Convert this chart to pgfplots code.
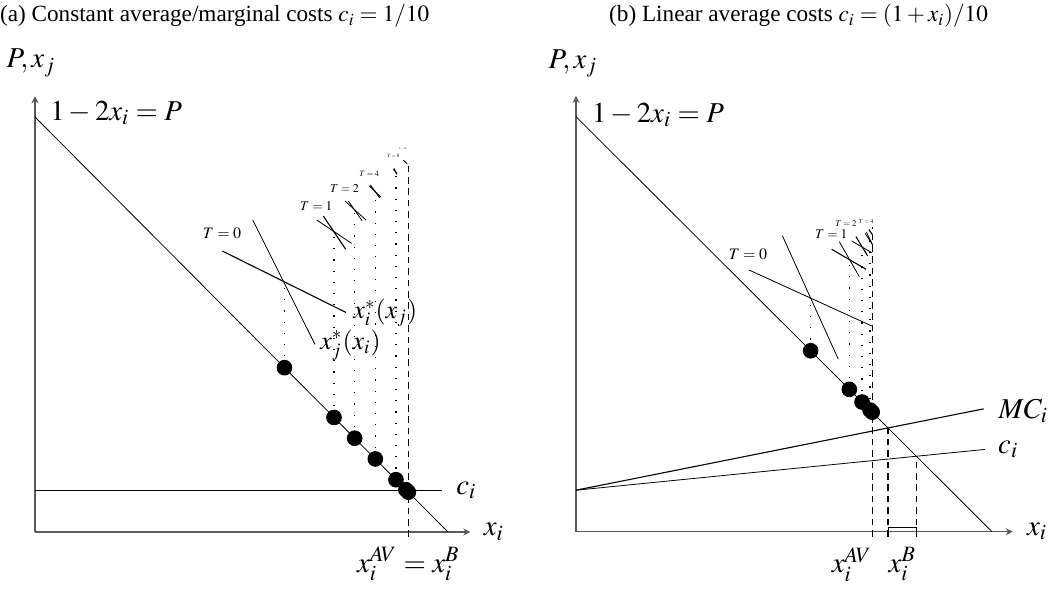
\documentclass[border=0pt]{standalone}
\usepackage{mathptmx}
\usepackage{fontspec}
\setmainfont{Liberation Serif}
\usepackage{pgfplots}
\pgfplotsset{compat=1.18}
\usetikzlibrary{arrows.meta}

\newcommand\fs[1]{\fontsize{#1}{#1}\selectfont}

\pgfplotsset{
  diagram/.style={
    axis lines*=left,
    xtick=\empty, ytick=\empty,
    xmin=0, ymin=0, ymax=1.05,
    y=207.5pt,
    clip=false,
    axis line style={black!65, line width=0.7pt, -{Stealth[length=3.5pt,width=3.5pt]}},
    cycle list={{black, no markers, line width=0.55pt}},
  },
  dots/.style={only marks, mark=*, mark size=3.7pt, black},
  proj/.style={black, line width=0.6pt, dash pattern=on 0.6pt off 5pt},
  guide/.style={black, line width=0.55pt, dash pattern=on 3.3pt off 2.4pt},
}
\tikzset{lbl/.style={inner sep=0pt}}

\begin{document}
\begin{tikzpicture}
\path[use as bounding box] (0,0) rectangle (529pt,296.5pt);

% ---------- (a) constant costs
\begin{axis}[diagram, x=413pt, xmax=0.527, at={(17.5pt,30.5pt)}, anchor=south west]
  \addplot coordinates {(0,1) (0.5,0)};
  \addplot coordinates {(0,0.1) (0.4924,0.1)};
  % reaction functions, T = 0, 1, 2, 4, 8, 16
  \addplot coordinates {(0.2268,0.677) (0.3765,0.529)};
  \addplot coordinates {(0.2636,0.752) (0.339,0.452)};
  \addplot coordinates {(0.3410,0.7518) (0.3834,0.6955)};
  \addplot coordinates {(0.3490,0.7614) (0.3762,0.6812)};
  \addplot coordinates {(0.3753,0.7976) (0.4007,0.7518)};
  \addplot coordinates {(0.3793,0.7976) (0.3962,0.7494)};
  \addplot coordinates {(0.4050,0.834) (0.4185,0.807)};
  \addplot coordinates {(0.4062,0.836) (0.4172,0.805)};
  \addplot coordinates {(0.4338,0.874) (0.4386,0.864)};
  \addplot coordinates {(0.4345,0.876) (0.4380,0.862)};
  \addplot coordinates {(0.4459,0.896) (0.4507,0.887)};
  % projections
  \addplot[proj] coordinates {(0.302,0.396) (0.302,0.603)};
  \addplot[proj] coordinates {(0.362,0.276) (0.362,0.723)};
  \addplot[proj] coordinates {(0.387,0.226) (0.387,0.776)};
  \addplot[proj] coordinates {(0.412,0.176) (0.412,0.820)};
  \addplot[proj] coordinates {(0.437,0.126) (0.437,0.869)};
  \addplot[guide] coordinates {(0.452,-0.012) (0.452,0.892)};
  \addplot[dots] coordinates {(0.302,0.396) (0.362,0.276) (0.387,0.226)
    (0.412,0.176) (0.437,0.126) (0.449,0.102) (0.452,0.096)};

  \node[anchor=base, font=\fs{11.6}] at (axis cs:0.2175,1.229)
    {(a) Constant average/marginal costs $c_i = 1/10$};
  \node[lbl, font=\fs{14.4}] at (axis cs:-0.005,1.130) {$P, x_j$};
  \node[lbl, anchor=west, font=\fs{14.4}] at (axis cs:0.018,1.01) {$1-2x_i=P$};
  \node[lbl, anchor=west, font=\fs{14.4}] at (axis cs:0.5097,0.101) {$c_i$};
  \node[lbl, anchor=west, font=\fs{14.4}] at (axis cs:0.543,0) {$x_i$};
  \node[lbl, anchor=north, font=\fs{14.4}] at (axis cs:0.452,-0.035) {$x_i^{AV}=x_i^B$};
  \node[lbl, anchor=west, font=\fs{13}] at (axis cs:0.385,0.528) {$x_i^*(x_j)$};
  \node[lbl, anchor=west, font=\fs{13}] at (axis cs:0.345,0.4506) {$x_j^*(x_i)$};
  \node[lbl, font=\fs{8}] at (axis cs:0.2264,0.7205) {$T=0$};
  \node[lbl, font=\fs{6.7}] at (axis cs:0.3406,0.785) {$T=1$};
  \node[lbl, font=\fs{6}] at (axis cs:0.3747,0.828) {$T=2$};
  \node[lbl, font=\fs{4.1}] at (axis cs:0.4046,0.8643) {$T=4$};
  \node[lbl, font=\fs{2.5}] at (axis cs:0.4338,0.9056) {$T=8$};
  \node[lbl, font=\fs{1.3}] at (axis cs:0.4455,0.924) {$T=16$};
\end{axis}

% ---------- (b) linear average costs
\begin{axis}[diagram, x=416pt, xmax=0.525, at={(288pt,30.65pt)}, anchor=south west]
  \addplot coordinates {(0,1) (0.5,0)};
  \addplot coordinates {(0,0.1) (0.4916,0.1983)};
  \addplot coordinates {(0,0.1) (0.49,0.296)};
  \addplot coordinates {(0.2079,0.6306) (0.3554,0.4957)};
  \addplot coordinates {(0.248,0.7133) (0.3153,0.4154)};
  \addplot coordinates {(0.3073,0.6805) (0.3486,0.6323)};
  \addplot coordinates {(0.3165,0.6988) (0.3405,0.6145)};
  \addplot coordinates {(0.3314,0.7005) (0.3554,0.6723)};
  \addplot coordinates {(0.3365,0.7108) (0.3506,0.6643)};
  \addplot coordinates {(0.3474,0.719) (0.3566,0.6908)};
  \addplot coordinates {(0.3490,0.722) (0.3560,0.693)};
  \addplot coordinates {(0.3520,0.728) (0.3562,0.716)};
  \addplot[proj] coordinates {(0.282,0.436) (0.282,0.563)};
  \addplot[proj] coordinates {(0.3285,0.343) (0.3285,0.655)};
  \addplot[proj] coordinates {(0.3438,0.3124) (0.3438,0.687)};
  \addplot[proj] coordinates {(0.3534,0.2932) (0.3534,0.705)};
  \addplot[guide] coordinates {(0.356,-0.012) (0.356,0.735)};
  \addplot[guide] coordinates {(0.375,-0.012) (0.375,0.25)};
  \addplot[guide] coordinates {(0.409,-0.012) (0.409,0.182)};
  \addplot[line width=0.5pt] coordinates {(0.375,0) (0.375,0.01) (0.409,0.01) (0.409,0)};
  \addplot[dots] coordinates {(0.282,0.436) (0.3285,0.343) (0.3438,0.3124)
    (0.3534,0.2932) (0.356,0.288)};

  \node[anchor=base, font=\fs{11.6}] at (axis cs:0.2675,1.229)
    {(b) Linear average costs $c_i = (1+x_i)/10$};
  \node[lbl, font=\fs{14.4}] at (axis cs:-0.0036,1.129) {$P, x_j$};
  \node[lbl, anchor=west, font=\fs{14.4}] at (axis cs:0.0188,1.004) {$1-2x_i=P$};
  \node[lbl, anchor=west, font=\fs{14.4}] at (axis cs:0.5076,0.291) {$MC_i$};
  \node[lbl, anchor=west, font=\fs{14.4}] at (axis cs:0.507,0.199) {$c_i$};
  \node[lbl, anchor=west, font=\fs{14.4}] at (axis cs:0.5417,0) {$x_i$};
  \node[lbl, anchor=north east, font=\fs{14.4}] at (axis cs:0.356,-0.037) {$x_i^{AV}$};
  \node[lbl, anchor=north east, font=\fs{14.4}] at (axis cs:0.409,-0.037) {$x_i^{B}$};
  \node[lbl, font=\fs{8}] at (axis cs:0.2067,0.669) {$T=0$};
  \node[lbl, font=\fs{6.7}] at (axis cs:0.3068,0.7166) {$T=1$};
  \node[lbl, font=\fs{4.4}] at (axis cs:0.3245,0.7427) {$T=2$};
  \node[lbl, font=\fs{3}] at (axis cs:0.3486,0.7463) {$T=4$};
\end{axis}
\end{tikzpicture}
\end{document}
